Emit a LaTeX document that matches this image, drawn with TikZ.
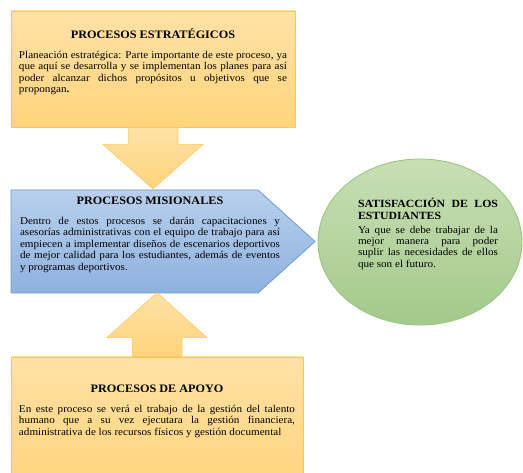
\documentclass[tikz,border=0pt]{standalone}
\usepackage{fontspec}
\setmainfont{Liberation Serif}[FakeStretch=1.07]
\usepackage{tikz}
\usetikzlibrary{shapes.geometric,calc,positioning}

\definecolor{amarillo}{HTML}{FFD47C}
\definecolor{amarilloclaro}{HTML}{FFE2A6}
\definecolor{bordeamarillo}{HTML}{F8C655}
\definecolor{azul}{HTML}{8EB1E0}
\definecolor{azulclaro}{HTML}{B8D0EC}
\definecolor{bordeazul}{HTML}{6F98CC}
\definecolor{verde}{HTML}{A3C98A}
\definecolor{verdeclaro}{HTML}{C8DFB5}
\definecolor{bordeverde}{HTML}{95C27C}
\hyphenpenalty=10000

\begin{document}
\begin{tikzpicture}[x=1pt,y=-1pt]
	\tikzstyle{every node} = [font=\fontsize{10.4}{11.4}\selectfont, inner sep=0pt]
	\tikzstyle{caja} = [rectangle, draw=bordeamarillo, line width=0.8pt, top color=amarilloclaro, bottom color=amarillo]
	\tikzstyle{flecha} = [draw=bordeamarillo, line width=0.5pt, top color=amarilloclaro, bottom color=amarillo]
	\tikzstyle{titulo} = [font=\fontsize{11.4}{12}\selectfont\bfseries]
	\tikzstyle{texto} = [align=justify, anchor=north]

\useasboundingbox (0,0) rectangle (523,473);
\clip (0,0) rectangle (523,473);

\node[caja, minimum width=284, minimum height=116] (estrategicos) at (153,69) {};
\node[caja, minimum width=292, minimum height=130] (apoyo) at (157,422) {};
\node[ellipse, draw=bordeverde, line width=0.8pt, top color=verdeclaro, bottom color=verde,
      minimum width=204, minimum height=166] (satisfaccion) at (420,242) {};

	\path[draw=bordeazul, line width=0.8pt, top color=azulclaro, bottom color=azul]
	  (11,190) -- (258,190) -- (315,241.5) -- (258,293) -- (11,293) -- cycle;
	\coordinate (misionales) at (153,190);

	\path[flecha] ($(estrategicos.south)+(-25,0)$) -- ++(50,0) -- ++(0,17) -- ++(25,0)
	  -- ($(misionales)+(0,-1)$) -- ($(estrategicos.south)+(-50,17)$) -- ++(25,0) -- cycle;
	\path[flecha] ($(apoyo.north)+(-25,0)$) -- ++(0,-19) -- ++(-25,0)
	  -- ($(apoyo.north)+(0,-64)$) -- ($(apoyo.north)+(50,-19)$) -- ++(-25,0) -- ++(0,19) -- cycle;

\node[titulo] (tEstr) at (153,34) {PROCESOS ESTRATÉGICOS};
\node[texto, text width=268] (xEstr) at (153,51) {Planeación estratégica: Parte importante de este proceso, ya\linebreak
  que aquí se desarrolla y se implementan los planes para así\linebreak
  poder alcanzar dichos propósitos u objetivos que se\linebreak
  propongan\textbf{.}};

\node[titulo] (tMis) at (150,201) {PROCESOS MISIONALES};
\node[texto, text width=260] (xMis) at (150,217) {Dentro de estos procesos se darán capacitaciones y\linebreak
  asesorías administrativas con el equipo de trabajo para así\linebreak
  empiecen a implementar diseños de escenarios deportivos\linebreak
  de mejor calidad para los estudiantes, además de eventos\linebreak
  y programas deportivos.};

\node[texto, text width=140] (xSat) at (428,198) {{\fontsize{11}{12}\selectfont\bfseries SATISFACCIÓN DE LOS\linebreak ESTUDIANTES\par}\vspace{2pt}
  Ya que se debe trabajar de la\linebreak
  mejor manera para poder\linebreak
  suplir las necesidades de ellos\linebreak
  que son el futuro.};

\node[titulo] (tApo) at (157,389) {PROCESOS DE APOYO};
\node[texto, text width=276] (xApo) at (157,405) {En este proceso se verá el trabajo de la gestión del talento\linebreak
  humano que a su vez ejecutara la gestión financiera,\linebreak
  administrativa de los recursos físicos y gestión documental};
\end{tikzpicture}
\end{document}
